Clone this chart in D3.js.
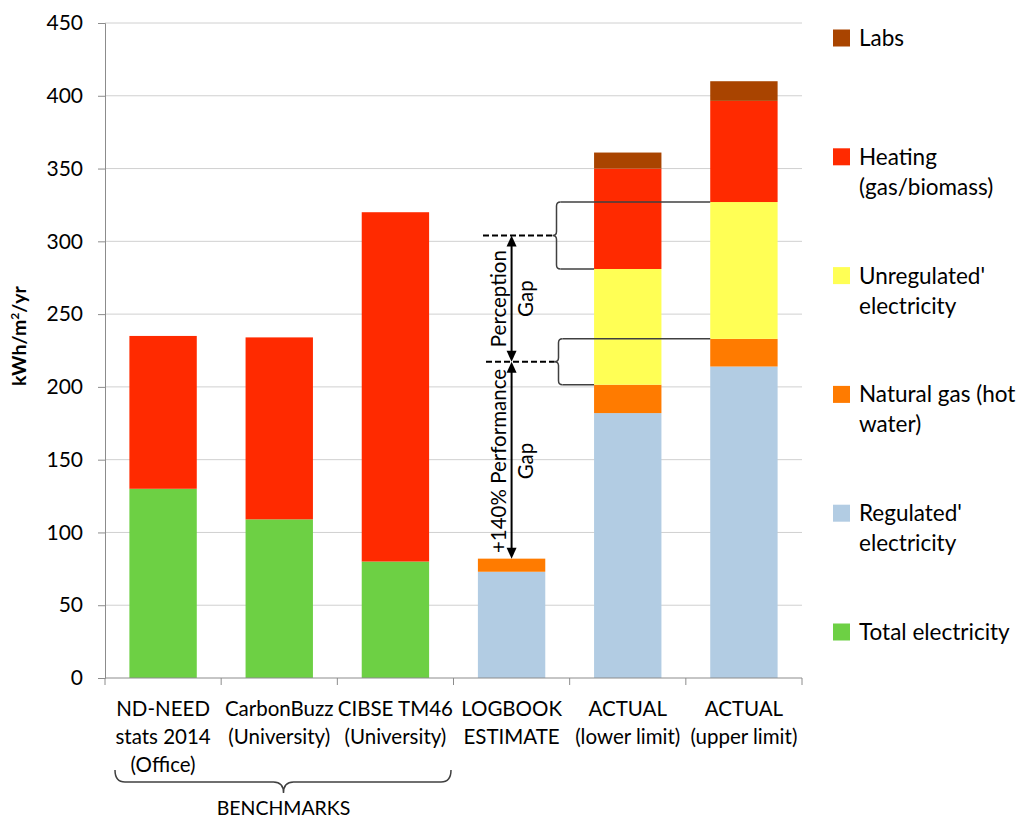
<!DOCTYPE html>
<html>
<head>
<meta charset="utf-8">
<script src="https://cdn.jsdelivr.net/npm/d3@7"></script>
<style>
  html, body { margin: 0; padding: 0; background: #fff; }
  svg { display: block; font-family: Lato, "Noto Sans", sans-serif; }
</style>
</head>
<body>
<svg id="chart" width="1019" height="820"></svg>
<script>
// Categories (multi-line labels) and stacked series, bottom to top
const categories = ["ND-NEED", "CarbonBuzz", "CIBSE TM46", "LOGBOOK", "ACTUAL lower", "ACTUAL upper"];
const categoryLabels = [
  ["ND-NEED", "stats 2014", "(Office)"],
  ["CarbonBuzz", "(University)"],
  ["CIBSE TM46", "(University)"],
  ["LOGBOOK", "ESTIMATE"],
  ["ACTUAL", "(lower limit)"],
  ["ACTUAL", "(upper limit)"]
];
const totalElectricity = [130, 109, 80, 0, 0, 0];
const regulatedElectricity = [0, 0, 0, 73, 182, 214];
const naturalGasHotWater = [0, 0, 0, 9, 19.5, 19];
const unregulatedElectricity = [0, 0, 0, 0, 79.5, 94];
const heating = [105, 125, 240, 0, 69, 69.5];
const labs = [0, 0, 0, 0, 11, 13.5];

const seriesNames = ["Total electricity", "Regulated' electricity", "Natural gas (hot water)",
                     "Unregulated' electricity", "Heating (gas/biomass)", "Labs"];
const seriesValues = [totalElectricity, regulatedElectricity, naturalGasHotWater,
                      unregulatedElectricity, heating, labs];
const seriesColors = ["#6dd044", "#b2cce3", "#ff7b00", "#ffff55", "#ff2a00", "#a94400"];

// Legend order (top to bottom) and wrapped legend text
const legendOrder = [5, 4, 3, 2, 1, 0];
const legendLines = [
  ["Total electricity"],
  ["Regulated'", "electricity"],
  ["Natural gas (hot", "water)"],
  ["Unregulated'", "electricity"],
  ["Heating", "(gas/biomass)"],
  ["Labs"]
];
const yTicks = [0, 50, 100, 150, 200, 250, 300, 350, 400, 450];

const svg = d3.select("#chart");

const plot = { left: 105, right: 802, top: 23, bottom: 678 };
const x = d3.scaleBand().domain(categories).range([plot.left, plot.right]).padding(0);
const y = d3.scaleLinear().domain([0, 450]).range([plot.bottom, plot.top]);
const barW = x.bandwidth() * 0.58;
const barX = c => x(c) + (x.bandwidth() - barW) / 2;

// Gridlines
svg.append("g").selectAll("line").data(yTicks.slice(1)).join("line")
  .attr("x1", plot.left).attr("x2", plot.right)
  .attr("y1", d => y(d)).attr("y2", d => y(d))
  .attr("stroke", "#d0d0d0").attr("stroke-width", 1);

// Stacked bars
const table = categories.map((c, i) => {
  const row = { cat: c };
  seriesNames.forEach((s, k) => row[s] = seriesValues[k][i]);
  return row;
});
const stacked = d3.stack().keys(seriesNames)(table);
svg.append("g").selectAll("g").data(stacked).join("g")
  .attr("fill", (d, k) => seriesColors[k])
  .selectAll("rect").data(d => d.filter(p => p[1] - p[0] > 0)).join("rect")
  .attr("x", d => barX(d.data.cat))
  .attr("width", barW)
  .attr("y", d => y(d[1]))
  .attr("height", d => y(d[0]) - y(d[1]));

// Y axis
const yAxis = svg.append("g").attr("transform", `translate(${plot.left},0)`)
  .call(d3.axisLeft(y).tickValues(yTicks).tickSize(7).tickPadding(15));
yAxis.select(".domain").attr("stroke", "#8c8c8c");
yAxis.selectAll(".tick line").attr("stroke", "#8c8c8c");
yAxis.selectAll(".tick text").attr("font-size", 21).attr("fill", "#000")
  .attr("font-family", "Lato, sans-serif");

// X axis
const xAxis = svg.append("g").attr("transform", `translate(0,${plot.bottom})`);
xAxis.append("line").attr("x1", plot.left).attr("x2", plot.right)
  .attr("stroke", "#8c8c8c");
const boundaries = categories.map(c => x(c)).concat([plot.right]);
xAxis.selectAll("line.tk").data(boundaries).join("line").attr("class", "tk")
  .attr("x1", d => d).attr("x2", d => d).attr("y1", 0).attr("y2", 7)
  .attr("stroke", "#8c8c8c");
categories.forEach((c, i) => {
  const t = xAxis.append("text").attr("text-anchor", "middle").attr("font-size", 20.5)
    .attr("x", x(c) + x.bandwidth() / 2).attr("y", 38);
  categoryLabels[i].forEach((ln, j) => {
    t.append("tspan").attr("x", x(c) + x.bandwidth() / 2).attr("dy", j === 0 ? 0 : 28).text(ln);
  });
});

// Y axis title
svg.append("text")
  .attr("transform", "translate(26,336) rotate(-90)")
  .attr("text-anchor", "middle").attr("font-size", 19.5).attr("font-weight", "bold")
  .html('kWh/m<tspan baseline-shift="super" font-size="12">2</tspan>/yr');

// BENCHMARKS brace under the first three categories
(function () {
  const x0 = 115, x1 = 451, xm = (x0 + x1) / 2 + 0.5;
  const yTop = 770, yLine = 782, yTip = 793, r = 10;
  svg.append("path")
    .attr("d", `M${x0},${yTop} Q${x0},${yLine} ${x0 + r},${yLine} L${xm - r},${yLine}
                Q${xm},${yLine} ${xm},${yTip} Q${xm},${yLine} ${xm + r},${yLine}
                L${x1 - r},${yLine} Q${x1},${yLine} ${x1},${yTop}`)
    .attr("fill", "none").attr("stroke", "#404040").attr("stroke-width", 1.5);
  svg.append("text").attr("x", xm).attr("y", 815).attr("text-anchor", "middle")
    .attr("font-size", 19.5).text("BENCHMARKS");
})();

// Gap annotations
const lower = 4, upper = 5, logbook = 3;
const cum = (i, k) => d3.sum(seriesValues.slice(0, k + 1), s => s[i]);
const perceptionLevel = (cum(upper, 3) + cum(lower, 3)) / 2;   // mid of unregulated tops
const performanceLevel = (cum(upper, 2) + cum(lower, 2)) / 2;  // mid of hot-water tops
const logbookTop = cum(logbook, 5);

// Braces joining the two ACTUAL bars
function brace(xb, v0, v1, toX0, toX1) {
  const y0 = y(v0), y1 = y(v1), ym = (y0 + y1) / 2, r = 4;
  svg.append("path")
    .attr("d", `M${xb + r},${y0} Q${xb},${y0} ${xb},${y0 + r} L${xb},${ym - r}
                Q${xb},${ym} ${xb - r},${ym} Q${xb},${ym} ${xb},${ym + r}
                L${xb},${y1 - r} Q${xb},${y1} ${xb + r},${y1}`)
    .attr("fill", "none").attr("stroke", "#404040").attr("stroke-width", 1.5);
  svg.append("line").attr("x1", xb + r).attr("x2", toX0).attr("y1", y0).attr("y2", y0)
    .attr("stroke", "#404040").attr("stroke-width", 1.5);
  svg.append("line").attr("x1", xb + r).attr("x2", toX1).attr("y1", y1).attr("y2", y1)
    .attr("stroke", "#404040").attr("stroke-width", 1.5);
  return xb - r;
}
const tipA = brace(556.5, cum(upper, 3), cum(lower, 3), barX(categories[upper]), barX(categories[lower]));
const tipB = brace(558.5, cum(upper, 2), cum(lower, 2), barX(categories[upper]), barX(categories[lower]));

// Dashed reference lines
svg.append("line").attr("x1", 483).attr("x2", tipA).attr("y1", y(perceptionLevel)).attr("y2", y(perceptionLevel))
  .attr("stroke", "#000").attr("stroke-width", 2).attr("stroke-dasharray", "6,3");
svg.append("line").attr("x1", 486).attr("x2", tipB).attr("y1", y(performanceLevel)).attr("y2", y(performanceLevel))
  .attr("stroke", "#000").attr("stroke-width", 2).attr("stroke-dasharray", "6,3");

// Double-headed arrows
const ax = x(categories[logbook]) + x.bandwidth() / 2;
function head(tipY, dir) {
  const L = 11, W = 5;
  svg.append("path")
    .attr("d", `M${ax},${tipY} L${ax - W},${tipY + dir * L} L${ax + W},${tipY + dir * L} Z`)
    .attr("fill", "#000");
}
function dblArrow(v0, v1) {
  const ya = y(v0), yb = y(v1);
  svg.append("line").attr("x1", ax).attr("x2", ax).attr("y1", ya + 8).attr("y2", yb - 8)
    .attr("stroke", "#000").attr("stroke-width", 2);
  head(ya, 1); head(yb, -1);
}
dblArrow(perceptionLevel, performanceLevel);
dblArrow(performanceLevel, logbookTop);

// Rotated annotation labels
function vlabel(lines, cy) {
  const t = svg.append("text").attr("transform", `translate(${ax - 6},${cy}) rotate(-90)`)
    .attr("text-anchor", "middle").attr("font-size", 20.5);
  lines.forEach((ln, j) => t.append("tspan").attr("x", 0).attr("dy", j === 0 ? 0 : 27).text(ln));
}
vlabel(["Perception", "Gap"], (y(perceptionLevel) + y(performanceLevel)) / 2);
vlabel(["+140% Performance", "Gap"], 461);

// Legend
const legend = svg.append("g");
legendOrder.forEach((k, i) => {
  const cy = 38 + i * 118.8;
  legend.append("rect").attr("x", 833).attr("y", cy - 8.5).attr("width", 17).attr("height", 17)
    .attr("fill", seriesColors[k]);
  const t = legend.append("text").attr("x", 859).attr("y", cy + 8).attr("font-size", 22.5);
  legendLines[k].forEach((ln, j) => t.append("tspan").attr("x", 859).attr("dy", j === 0 ? 0 : 30).text(ln));
});
</script>
</body>
</html>
